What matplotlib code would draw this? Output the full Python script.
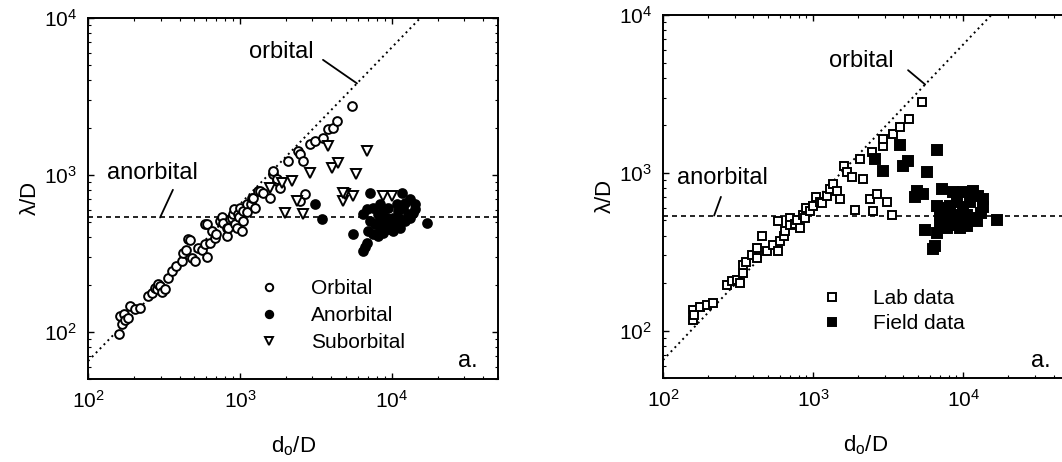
import numpy as np
import matplotlib
matplotlib.use("Agg")
import matplotlib.pyplot as plt
from matplotlib.ticker import LogLocator, FuncFormatter, NullFormatter

plt.rcParams['font.family'] = ['Liberation Sans', 'DejaVu Sans']
plt.rcParams['mathtext.fontset'] = 'custom'
plt.rcParams['mathtext.rm'] = 'Liberation Sans'
plt.rcParams['mathtext.it'] = 'Liberation Sans:italic'
plt.rcParams['mathtext.default'] = 'regular'

# ---- ripple data: orbital diameter d0/D and ripple wavelength lambda/D ----
orb_d = [160, 162, 167, 172, 176, 183, 190, 204, 220, 250, 264, 276, 285, 289, 298,
         305, 321, 336, 358, 378, 416, 422, 440, 455, 469, 483, 506, 529, 560, 589,
         589, 606, 606, 635, 655, 685, 700, 738, 760, 773, 822, 822, 834, 860, 885,
         900, 920, 927, 955, 970, 990, 1000, 1030, 1047, 1047, 1110, 1120, 1180, 1200,
         1220, 1250, 1313, 1350, 1416, 1574, 1649, 1650, 1750, 1750, 1833, 2070, 2410,
         2484, 2484, 2596, 2680, 2890, 3115, 3516, 3795, 4093, 4345, 5460]
orb_l = [97, 126, 112, 130, 118, 123, 146, 140, 142, 170, 177, 191, 186, 202, 196,
         180, 188, 221, 245, 262, 283, 319, 330, 391, 386, 296, 283, 343, 330, 364,
         487, 301, 487, 370, 440, 397, 420, 509, 540, 494, 459, 408, 459, 520, 532,
         565, 610, 487, 459, 565, 540, 617, 440, 590, 509, 653, 580, 650, 714,
         714, 617, 791, 791, 768, 714, 1015, 1060, 916, 943, 826, 1227, 1420,
         1360, 682, 1227, 757, 1575, 1647, 1722, 1963, 1995, 2210, 2750]

ano_d = [3115, 3460, 5540, 6440, 6700, 6850, 7160, 11650, 13130, 14150, 13720, 16980,
         6850, 7500, 8090, 8730, 9420, 10160, 10950, 11810, 12150, 12740, 7160, 7730,
         8340, 9000, 9700, 10470, 11300, 12150, 13130, 6950, 7500, 8090, 8730, 9420,
         10160, 11300, 9270, 8340, 6440, 14150, 10800, 8340]
ano_l = [653, 525, 421, 328, 345, 369, 768, 768, 703, 653, 573, 494,
         607, 617, 565, 590, 617, 532, 590, 617, 664, 565, 509, 487,
         459, 487, 473, 494, 525, 509, 532, 440, 421, 408, 427, 453,
         440, 459, 532, 525, 565, 607, 653, 653]

sub_d = [1574, 1888, 1977, 2200, 2370, 2596, 2890, 3795, 4030, 4415, 4760, 4910,
         5540, 5800, 6850, 8730, 10000, 4760]
sub_l = [826, 889, 573, 916, 682, 565, 1030, 1530, 1108, 1192, 682, 757,
         735, 1015, 1422, 735, 735, 768]

lab_d = [158, 158, 162, 176, 196, 215, 267, 288, 311, 326, 341, 341, 360, 390, 423,
         457, 423, 494, 541, 584, 603, 584, 640, 650, 700, 703, 760, 782, 857, 819,
         880, 900, 955, 1000, 1050, 1114, 1150, 1240, 1298, 1350, 1445, 1514, 1600,
         1686, 1820, 2154, 2056, 2472, 2930, 2930, 3415, 3802, 4365, 5330, 1905,
         2512, 3365, 2400, 2672, 3115]
lab_l = [134, 116, 125, 140, 146, 150, 195, 206, 209, 200, 232, 260, 270, 300, 333,
         396, 288, 318, 348, 318, 368, 492, 400, 426, 520, 464, 470, 499, 537, 445,
         520, 600, 569, 620, 700, 657, 640, 716, 793, 850, 770, 686, 1100,
         1015, 944, 917, 1225, 1355, 1479, 1636, 1758, 1946, 2188, 2798, 577,
         569, 537, 686, 738, 657]

field_d = [3802, 6714, 2590, 2930, 4300, 3981, 5754, 4936, 4786, 5410, 7244, 8570,
           10000, 11670, 12590, 13590, 13590, 13190, 12390, 16860, 6714, 7360, 8130,
           9120, 10000, 11100, 7000, 7800, 8570, 9550, 10600, 11400, 7000, 7800, 8570,
           9550, 10600, 6714, 5580, 6500, 6300]
field_l = [1500, 1396, 1225, 1030, 1190, 1107, 1015, 770, 707, 738, 793, 759,
           759, 770, 716, 686, 611, 552, 492, 499, 620, 594, 620,
           657, 611, 657, 537, 513, 537, 513, 537, 513, 464, 445, 464,
           445, 457, 413, 432, 343, 330]

# regime boundaries: orbital lambda = 0.65 d0, anorbital lambda/D = 535
ORBITAL_RATIO = 0.65
ANORBITAL_LEVEL = 535.0
X_RANGE = (100, 5e4)
Y_RANGE = (50, 1e4)

FS = 15      # tick and axis labels
FS_ANN = 17  # regime annotations
FS_LEG = 15  # legend entries

fig = plt.figure(figsize=(10.62, 4.62), dpi=100)
ax1 = fig.add_axes([0.0829, 0.1797, 0.3861, 0.7814])
ax2 = fig.add_axes([0.6243, 0.1818, 0.3814, 0.7857])


def decade_label(v, pos):
    return r'$10^{%d}$' % int(round(np.log10(v)))


def style_axes(ax):
    ax.set_xscale('log')
    ax.set_yscale('log')
    ax.set_xlim(*X_RANGE)
    ax.set_ylim(*Y_RANGE)
    for axis in (ax.xaxis, ax.yaxis):
        axis.set_major_locator(LogLocator(base=10, numticks=10))
        axis.set_minor_locator(LogLocator(base=10, subs=np.arange(2, 10), numticks=10))
        axis.set_major_formatter(FuncFormatter(decade_label))
        axis.set_minor_formatter(NullFormatter())
    ax.tick_params(which='both', direction='in', top=True, right=True,
                   labelsize=FS, colors='black')
    ax.tick_params(which='major', length=4, width=1.0, pad=8)
    ax.tick_params(which='minor', length=2.5, width=0.8)
    for s in ax.spines.values():
        s.set_linewidth(1.4)
    ax.set_xlabel(r'd$_o$/D', fontsize=FS + 1, labelpad=16)
    ax.set_ylabel(r'$\lambda$/D', fontsize=FS + 1, labelpad=2)


def regime_lines(ax):
    dd = np.array(X_RANGE, dtype=float)
    ax.plot(dd, ORBITAL_RATIO * dd, color='black', lw=1.4,
            linestyle=(0, (1.0, 1.9)), zorder=1)
    ax.axhline(ANORBITAL_LEVEL, color='black', lw=1.2,
               linestyle=(0, (3.0, 2.4)), zorder=1)


def leader(ax, start, d_end, l_end):
    ax.annotate('', xy=(d_end, l_end), xycoords='data',
                xytext=start, textcoords='axes fraction',
                arrowprops=dict(arrowstyle='-', lw=1.3, color='black',
                                shrinkA=0, shrinkB=0))


legend_kw = dict(loc='upper left', frameon=False, fontsize=FS_LEG,
                 handlelength=0.9, handletextpad=1.55, markerscale=0.85,
                 borderpad=0, borderaxespad=0)

# ---------------- left panel: regime classification ----------------
style_axes(ax1)
regime_lines(ax1)
mk = dict(ls='none', mew=1.4, zorder=3)
ax1.plot(orb_d, orb_l, marker='o', ms=6.3, mfc='white', mec='black',
         label='Orbital', **mk)
ax1.plot(ano_d, ano_l, marker='o', ms=6.3, mfc='black', mec='black',
         label='Anorbital', **mk)
ax1.plot(sub_d, sub_l, marker='v', ms=6.8, mfc='white', mec='black',
         label='Suborbital', **mk)

ax1.text(0.471, 0.906, 'orbital', transform=ax1.transAxes, fontsize=FS_ANN,
         ha='center', va='center')
leader(ax1, (0.573, 0.884), 5890, ORBITAL_RATIO * 5890)
ax1.text(0.156, 0.571, 'anorbital', transform=ax1.transAxes, fontsize=FS_ANN,
         ha='center', va='center')
leader(ax1, (0.207, 0.524), 298, ANORBITAL_LEVEL)

ax1.legend(bbox_to_anchor=(0.4195, 0.2765), labelspacing=0.38, **legend_kw)
ax1.text(0.951, 0.033, 'a.', transform=ax1.transAxes, fontsize=FS_ANN,
         ha='right', va='baseline')

# ---------------- right panel: lab versus field ----------------
style_axes(ax2)
regime_lines(ax2)
ax2.plot(lab_d, lab_l, marker='s', ms=6.0, mfc='white', mec='black',
         label='Lab data', **mk)
ax2.plot(field_d, field_l, marker='s', ms=6.5, mfc='black', mec='black',
         label='Field data', **mk)

ax2.text(0.489, 0.873, 'orbital', transform=ax2.transAxes, fontsize=FS_ANN,
         ha='center', va='center')
leader(ax2, (0.605, 0.848), 5580, ORBITAL_RATIO * 5580)
ax2.text(0.146, 0.551, 'anorbital', transform=ax2.transAxes, fontsize=FS_ANN,
         ha='center', va='center')
leader(ax2, (0.143, 0.499), 219, ANORBITAL_LEVEL)

ax2.legend(bbox_to_anchor=(0.393, 0.2447), labelspacing=0.3, **legend_kw)
ax2.text(0.956, 0.030, 'a.', transform=ax2.transAxes, fontsize=FS_ANN,
         ha='right', va='baseline')

fig.savefig('out.png', dpi=100, facecolor='white')
